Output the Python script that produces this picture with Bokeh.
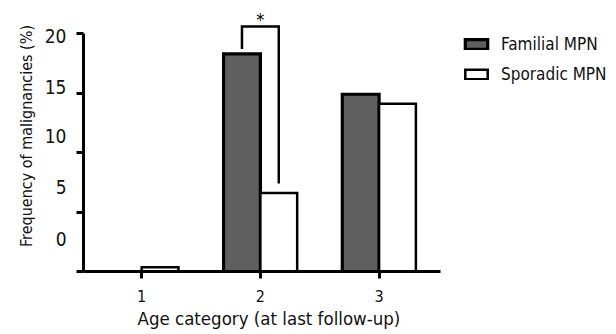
from bokeh.plotting import figure
from bokeh.models import Range1d, LinearAxis, FixedTicker, Legend, LegendItem, ColumnDataSource, Title
from bokeh.transform import dodge
from bokeh.embed import file_html
from bokeh.resources import INLINE
from bokeh.core.properties import value

# ---- data ----
categories = [1, 2, 3]
familial = [0.0, 18.3, 14.9]
sporadic = [0.35, 6.6, 14.1]
series_names = ["Familial MPN", "Sporadic MPN"]
x_ticks = [1, 2, 3]
y_ticks = [0, 5, 10, 15, 20]
y_tick_labels = ["0", "5", "10", "15", "20"]
# the source figure prints its y labels slightly off their tick marks
y_label_pos = [2.7, 7.1, 11.4, 15.5, 19.8]
x_title = "Age category (at last follow-up)"
y_title = "Frequency of malignancies (%)"
sig_category = 2
sig_text = "*"

FONT = "'Liberation Sans Narrow', 'Arial Narrow', 'DejaVu Sans Condensed', sans-serif"
BAR_W = 0.31
OFF = 0.155
X_LO, X_AXIS_HI, X_HI = 0.51, 3.52, 5.0   # frame runs on to the right to host the legend

src = ColumnDataSource(dict(cat=categories, fam=familial, spo=sporadic))

p = figure(width=616, height=334,
           x_range=Range1d(X_LO, X_HI), y_range=Range1d(0, 22.78),
           output_backend="svg", toolbar_location=None,
           min_border_top=0, min_border_left=83, min_border_right=0,
           min_border_bottom=63)
p.outline_line_color = None
p.xgrid.visible = False
p.ygrid.visible = False
p.background_fill_color = "white"

r_f = p.vbar(x=dodge("cat", -OFF, range=p.x_range), top="fam", bottom=0, width=BAR_W,
             source=src, fill_color="#5f5f5f", line_color="black", line_width=3.2,
             line_join="miter")
r_s = p.vbar(x=dodge("cat", OFF, range=p.x_range), top="spo", bottom=0, width=BAR_W,
             source=src, fill_color="white", line_color="black", line_width=2.5,
             line_join="miter")

# significance bracket
i = categories.index(sig_category)
fx, sx = sig_category - OFF, sig_category + OFF
top = max(familial[i], sporadic[i]) + 2.3
p.line(x=[fx, fx, sx, sx], y=[familial[i] + 0.4, top, top, sporadic[i] + 0.8],
       line_color="black", line_width=2.5, line_join="miter")
p.text(x=[sig_category], y=[top + 0.6], text=[sig_text], text_align="center",
       text_baseline="alphabetic", text_font=value(FONT), text_font_size="18px",
       text_color="black")

# x axis
xa = p.xaxis[0]
xa.ticker = FixedTicker(ticks=x_ticks)
xa.bounds = (X_LO, X_AXIS_HI)
xa.axis_line_width = 3
xa.major_tick_line_width = 3
xa.major_tick_out = 7
xa.major_tick_in = 0
xa.minor_tick_line_color = None
xa.major_label_text_font = FONT
xa.major_label_text_font_size = "16px"
xa.major_label_text_color = "#111111"
xa.major_label_standoff = 11

# x axis title, placed under the axis span
p.add_layout(Title(text=x_title, align="left", offset=54, standoff=2,
                   text_font=FONT, text_font_size="18.5px", text_font_style="normal",
                   text_color="#111111"), "below")

# y axis: tick marks only
ya = p.yaxis[0]
ya.ticker = FixedTicker(ticks=y_ticks)
ya.bounds = (y_ticks[0], y_ticks[-1])
ya.axis_line_width = 3
ya.major_tick_line_width = 3
ya.major_tick_out = 7
ya.major_tick_in = 0
ya.minor_tick_line_color = None
ya.major_label_overrides = {t: "" for t in y_ticks}
ya.major_label_text_font_size = "0px"
ya.major_label_standoff = 0

# y axis labels, as printed in the source
yl = LinearAxis(ticker=FixedTicker(ticks=y_label_pos),
                major_label_overrides={pos: lab for pos, lab in zip(y_label_pos, y_tick_labels)})
yl.axis_line_color = None
yl.major_tick_line_color = None
yl.minor_tick_line_color = None
yl.major_label_text_font = FONT
yl.major_label_text_font_size = "19px"
yl.major_label_text_color = "#111111"
yl.major_label_standoff = 4
yl.axis_label = y_title
yl.axis_label_text_font = FONT
yl.axis_label_text_font_size = "16px"
yl.axis_label_text_font_style = "normal"
yl.axis_label_text_color = "#111111"
yl.axis_label_standoff = 6
p.add_layout(yl, "left")

legend = Legend(items=[LegendItem(label=series_names[0], renderers=[r_f]),
                       LegendItem(label=series_names[1], renderers=[r_s])],
                location=(379, 187))
legend.padding = 0
legend.margin = 0
legend.glyph_width = 28
legend.glyph_height = 12
legend.label_height = 12
legend.label_standoff = 11
legend.spacing = 10
legend.label_text_font = FONT
legend.label_text_font_size = "17px"
legend.label_text_color = "#111111"
legend.border_line_color = None
legend.background_fill_alpha = 0
p.add_layout(legend, "center")

open("out.html", "w").write(file_html(p, INLINE))
